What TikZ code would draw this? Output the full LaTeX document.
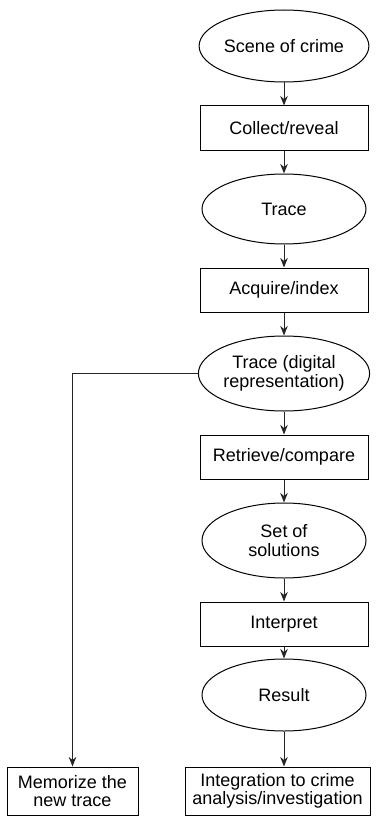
\documentclass[tikz,border=0pt]{standalone}
\usepackage{fontspec}
\setmainfont{Liberation Sans}
\usetikzlibrary{positioning, arrows.meta, shapes.geometric}

\begin{document}
\begin{tikzpicture}[
        node distance=11.5pt,
        oval/.style={ellipse, draw=black, line width=0.5pt, minimum width=82pt, minimum height=35pt,
          inner sep=0pt, align=center, font=\fontsize{9}{9.3}\selectfont},
        stepbox/.style={rectangle, draw=black, line width=0.5pt, minimum width=84pt, minimum height=22pt,
          inner sep=1pt, align=center, font=\fontsize{9}{9.3}\selectfont},
        arrow/.style={-{Stealth[length=4.8pt,width=3.8pt]}, line width=0.5pt, draw=black!85}
      ]
        \useasboundingbox (0,0) rectangle (189pt,-412pt);
        \node[oval, minimum height=36pt] (crime) at (142pt,-23pt) {Scene of crime};
        \node[stepbox, below=of crime] (collect) {Collect/reveal};
        \node[oval, below=of collect] (trace) {Trace};
        \node[stepbox, below=of trace] (acquire) {Acquire/index};
        \node[oval, minimum height=37.5pt, below=of acquire] (digital) {Trace (digital\\representation)};
        \node[stepbox, below=of digital] (retrieve) {Retrieve/compare};
        \node[oval, minimum height=37.5pt, below=of retrieve] (solutions) {Set of\\solutions};
        \node[stepbox, below=of solutions] (interpret) {Interpret};
        \node[oval, minimum height=36pt, below=6pt of interpret] (result) {Result};
        \node[stepbox, minimum width=92.5pt, minimum height=24pt, below=17.5pt of result, xshift=-3.25pt] (integrate) {Integration to crime\\analysis/investigation};
        \node[stepbox, minimum width=65.5pt, minimum height=24pt, left=23pt of integrate] (memorize) {Memorize the\\new trace};

        \draw[arrow] (crime) -- (collect);
        \draw[arrow] (collect) -- (trace);
        \draw[arrow] (trace) -- (acquire);
        \draw[arrow] (acquire) -- (digital);
        \draw[arrow] (digital) -- (retrieve);
        \draw[arrow] (retrieve) -- (solutions);
        \draw[arrow] (solutions) -- (interpret);
        \draw[arrow] (interpret) -- (result);
        \draw[arrow] (result.south) -- (result.south |- integrate.north);
        \draw[arrow] (digital.west) -| (memorize.north);
      \end{tikzpicture}
\end{document}
